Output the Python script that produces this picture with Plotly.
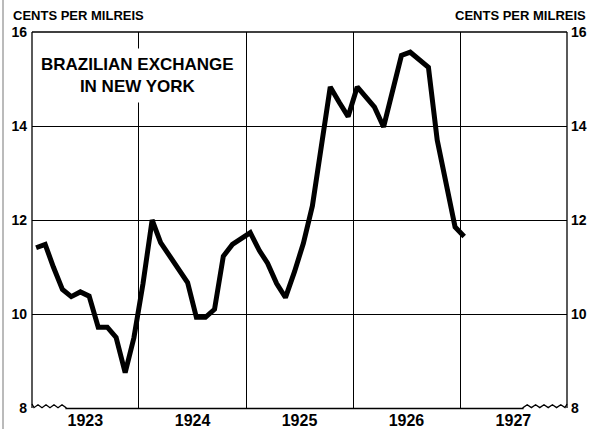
import pandas as pd
import plotly.graph_objects as go

# ---- data (monthly, Jan 1923 .. Jan 1927), cents per milreis ----
rates = [
    11.41, 11.48, 11.0, 10.52, 10.37, 10.47, 10.38, 9.72, 9.72, 9.5, 8.75, 9.5,      # 1923
    10.65, 12.0, 11.52, 11.23, 10.99, 10.67, 9.93, 9.93, 10.1, 11.23, 11.48, 11.6,   # 1924
    11.73, 11.35, 11.08, 10.65, 10.35, 10.9, 11.5, 12.3, 13.6, 14.83, 14.5, 14.2,    # 1925
    14.83, 14.6, 14.4, 13.98, 14.69, 15.5, 15.57, 15.4, 15.25, 13.7, 12.8, 11.85,    # 1926
    11.65,                                                                           # 1927
]
months = pd.date_range(start="1923-01-01", periods=len(rates), freq="MS") + pd.Timedelta(days=14)

years = ["1923", "1924", "1925", "1926", "1927"]
year_mid = [f"{y}-07-02" for y in years]
year_start = [f"{int(y)}-01-01" for y in years] + ["1928-01-01"]
y_ticks = [8, 10, 12, 14, 16]

W, H = 589, 429
L, R, T, B = 32, 22, 32, 21
PW, PH = W - L - R, H - T - B


def px(x):
    return (x - L) / PW


def py(y):
    return (H - B - y) / PH


FONT = "Liberation Sans"

fig = go.Figure()
fig.add_trace(go.Scatter(
    x=months, y=rates, mode="lines",
    line=dict(color="black", width=5, shape="linear"),
    showlegend=False, hoverinfo="skip",
))
# invisible companion so the right-hand axis is drawn
fig.add_trace(go.Scatter(
    x=months, y=rates, mode="lines", yaxis="y2",
    line=dict(color="rgba(0,0,0,0)", width=0),
    showlegend=False, hoverinfo="skip",
))

fig.update_layout(
    width=W, height=H,
    margin=dict(l=L, r=R, t=T, b=B, pad=0, autoexpand=False),
    paper_bgcolor="white", plot_bgcolor="white",
    font=dict(family=FONT, color="black"),
    xaxis=dict(
        type="date", range=["1923-01-01", "1928-01-01"], automargin=False,
        tickmode="array", tickvals=year_mid, ticktext=years,
        ticks="", showgrid=False, zeroline=False, showline=False,
        tickfont=dict(size=16, family=FONT, weight="bold"),
        ticklabelstandoff=1,
        minor=dict(tickmode="array", tickvals=year_start, showgrid=True,
                   gridcolor="black", gridwidth=1.2, ticks=""),
    ),
    yaxis=dict(
        range=[8, 16], tickmode="array", tickvals=y_ticks, automargin=False,
        ticks="", showgrid=True, gridcolor="black", gridwidth=1.2,
        zeroline=False, showline=False,
        tickfont=dict(size=14, family=FONT, weight="bold"),
        ticklabelstandoff=4,
    ),
    yaxis2=dict(
        range=[8, 16], tickmode="array", tickvals=y_ticks, overlaying="y",
        automargin=False,
        side="right", ticks="", showgrid=False, zeroline=False, showline=False,
        tickfont=dict(size=14, family=FONT, weight="bold"),
        ticklabelstandoff=3,
    ),
)

# frame: left, top, right borders
frame = dict(type="line", xref="paper", yref="paper", line=dict(color="black", width=1.3))
fig.add_shape(x0=0, x1=0, y0=0, y1=1, **frame)
fig.add_shape(x0=1, x1=1, y0=0, y1=1, **frame)
fig.add_shape(x0=0, x1=1, y0=1, y1=1, **frame)
# scan frame at far left edge
fig.add_shape(type="line", xref="paper", yref="paper", x0=px(3), x1=px(3), y0=py(0), y1=py(H),
              line=dict(color="rgba(60,60,60,0.7)", width=1))


# bottom baseline with break squiggles at both ends
def squiggle(x_start, x_end, base, n, amp):
    pts = []
    step = (x_end - x_start) / (2 * n)
    for i in range(2 * n + 1):
        xx = x_start + i * step
        yy = base - amp if i % 2 else base + amp * 0.3
        pts.append((xx, yy))
    return pts


base_y = 408.5
left_sq = [(32, 404)] + squiggle(34, 66, base_y - 1.5, 4, 2.2)
right_sq = squiggle(523, 565, base_y - 1.5, 5, 2.2) + [(567, 404)]
pts = left_sq + [(66, base_y), (523, base_y)] + right_sq
path = "M " + " L ".join(f"{px(a):.5f},{py(b):.5f}" for a, b in pts)
fig.add_shape(type="path", xref="paper", yref="paper", path=path,
              line=dict(color="black", width=1.3))

# axis unit captions
fig.add_annotation(text="CENTS PER MILREIS", xref="paper", yref="paper",
                   x=px(11), y=py(15.5), xanchor="left", yanchor="middle", showarrow=False,
                   font=dict(size=13, family=FONT, weight="bold"))
fig.add_annotation(text="CENTS PER MILREIS", xref="paper", yref="paper",
                   x=px(588), y=py(15.5), xanchor="right", yanchor="middle", showarrow=False,
                   font=dict(size=13, family=FONT, weight="bold"))

# title box
fig.add_annotation(text="BRAZILIAN EXCHANGE<br>IN NEW YORK", xref="paper", yref="paper",
                   x=px(137), y=py(75), xanchor="center", yanchor="middle", showarrow=False,
                   align="center", bgcolor="white", borderpad=6,
                   font=dict(size=17, family=FONT, weight="bold"))

fig.write_html(
    "out.html",
    config={"displayModeBar": False},
    post_script="document.body.style.margin='0';document.body.style.overflow='hidden';",
)
